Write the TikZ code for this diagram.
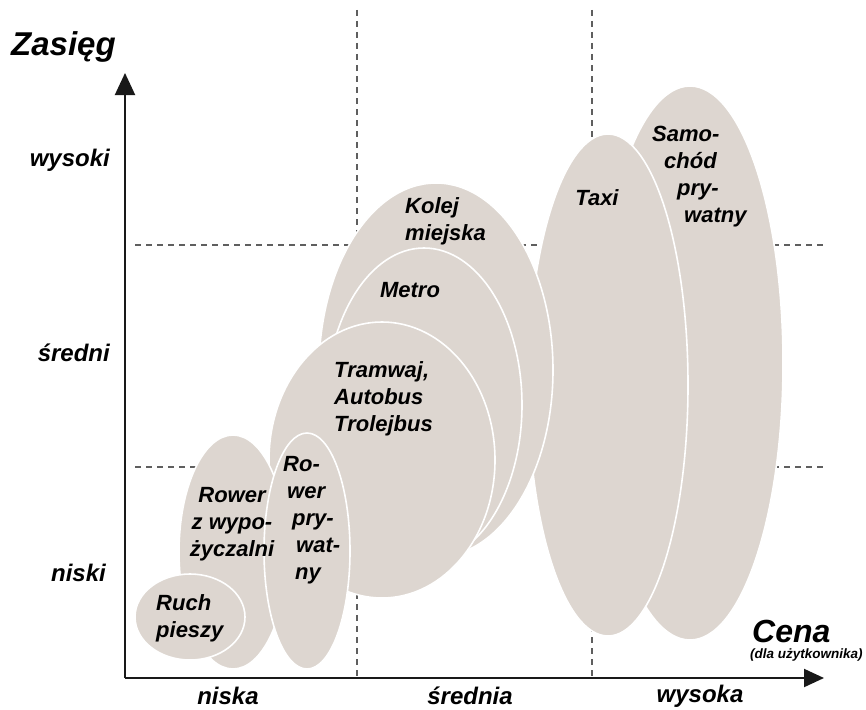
\documentclass[tikz,border=0pt]{standalone}
\usepackage{fontspec}
\setmainfont{Liberation Sans}
\usetikzlibrary{shapes.geometric,arrows.meta}
\definecolor{blobc}{RGB}{221,214,208}
\definecolor{dashc}{RGB}{95,95,95}
\definecolor{axisc}{RGB}{25,25,25}
\begin{document}
\begin{tikzpicture}[x=1pt,y=-1pt,
  blob/.style={ellipse,fill=blobc,draw=white,line width=1.6pt,inner sep=0pt},
  lbl/.style={font=\fontsize{22}{27}\selectfont\bfseries\itshape,text=black,inner sep=0pt,align=left},
  axlbl/.style={font=\fontsize{24}{27}\selectfont\bfseries\itshape,text=black,inner sep=0pt},
  bigl/.style={font=\fontsize{33}{36}\selectfont\bfseries\itshape,text=black,inner sep=0pt},
  guide/.style={draw=dashc,line width=1.2pt,dash pattern=on 6pt off 5pt},
  axisl/.style={draw=axisc,line width=2pt}
]
\useasboundingbox (0,0) rectangle (866,709);
\fill[white] (0,0) rectangle (866,709);

% guide lines
\coordinate (v1t) at (357,10); \coordinate (v1b) at (357,678);
\coordinate (v2t) at (592,10); \coordinate (v2b) at (592,678);
\coordinate (h1l) at (135,245); \coordinate (h1r) at (825,245);
\coordinate (h2l) at (135,467); \coordinate (h2r) at (825,467);
\draw[guide] (v1t) -- (v1b);
\draw[guide] (v2t) -- (v2b);
\draw[guide] (h1l) -- (h1r);
\draw[guide] (h2l) -- (h2r);

% ellipses
\node[blob,minimum width=186pt,minimum height=554pt] (samochod) at (690,363) {};
\node[blob,minimum width=160pt,minimum height=502pt] (taxi) at (608,385) {};
\node[blob,minimum width=234pt,minimum height=374pt] (kolej) at (436,370) {};
\node[blob,minimum width=196pt,minimum height=314pt] (metro) at (424,405) {};
\node[blob,minimum width=226pt,minimum height=276pt] (tramwaj) at (382,460) {};
\node[blob,minimum width=108pt,minimum height=234pt] (rowerwyp) at (233,552) {};
\node[blob,minimum width=86pt,minimum height=236pt] (rowerpryw) at (307,551) {};
\node[blob,minimum width=110pt,minimum height=86pt] (ruch) at (190,617) {};

% ellipse labels
\node[lbl,anchor=west] (lruch) at (156,618) {Ruch\\pieszy};
\node[lbl,align=center] (lrowerwyp) at (232,524) {Rower\\z wypo-\\życzalni};
\node[lbl,anchor=west] (lrowerpryw) at (283,520) {Ro-\\\hspace*{4pt}wer\\\hspace*{9pt}pry-\\\hspace*{13pt}wat-\\\hspace*{12pt}ny};
\node[lbl,anchor=west] (ltramwaj) at (334,399) {Tramwaj,\\Autobus\\Trolejbus};
\node[lbl] (lmetro) at (410,290) {Metro};
\node[lbl,anchor=west] (lkolej) at (405,221) {Kolej\\miejska};
\node[lbl] (ltaxi) at (597,198) {Taxi};
\node[lbl,anchor=west] (lsamochod) at (652,177) {Samo-\\\hspace*{12pt}chód\\\hspace*{25pt}pry-\\\hspace*{32pt}watny};

% axes
\coordinate (O) at (125,678);
\coordinate (ytip) at (125,73);
\coordinate (xtip) at (824,678);
\draw[axisl,-{Triangle[length=22pt,width=20pt]}] (O) -- (ytip);
\draw[axisl,-{Triangle[length=20pt,width=18pt]}] (O) -- (xtip);

% axis labels
\node[bigl,anchor=west] (zasieg) at (11,47) {Zasięg};
\node[font=\fontsize{32}{36}\selectfont\bfseries\itshape,inner sep=0pt,anchor=west] (cena) at (752,631) {Cena};
\node[font=\fontsize{13.5}{15}\selectfont\bfseries\itshape,inner sep=0pt,anchor=west] (dla) at (750,655) {(dla użytkownika)};
\node[axlbl,anchor=east] (wysoki) at (110,160) {wysoki};
\node[axlbl,anchor=east] (sredni) at (110,353) {średni};
\node[axlbl,anchor=east] (niski) at (106,573) {niski};
\node[axlbl] (niska) at (228,696) {niska};
\node[axlbl] (srednia) at (470,696) {średnia};
\node[axlbl] (wysoka) at (700,696) {wysoka};
\end{tikzpicture}
\end{document}
